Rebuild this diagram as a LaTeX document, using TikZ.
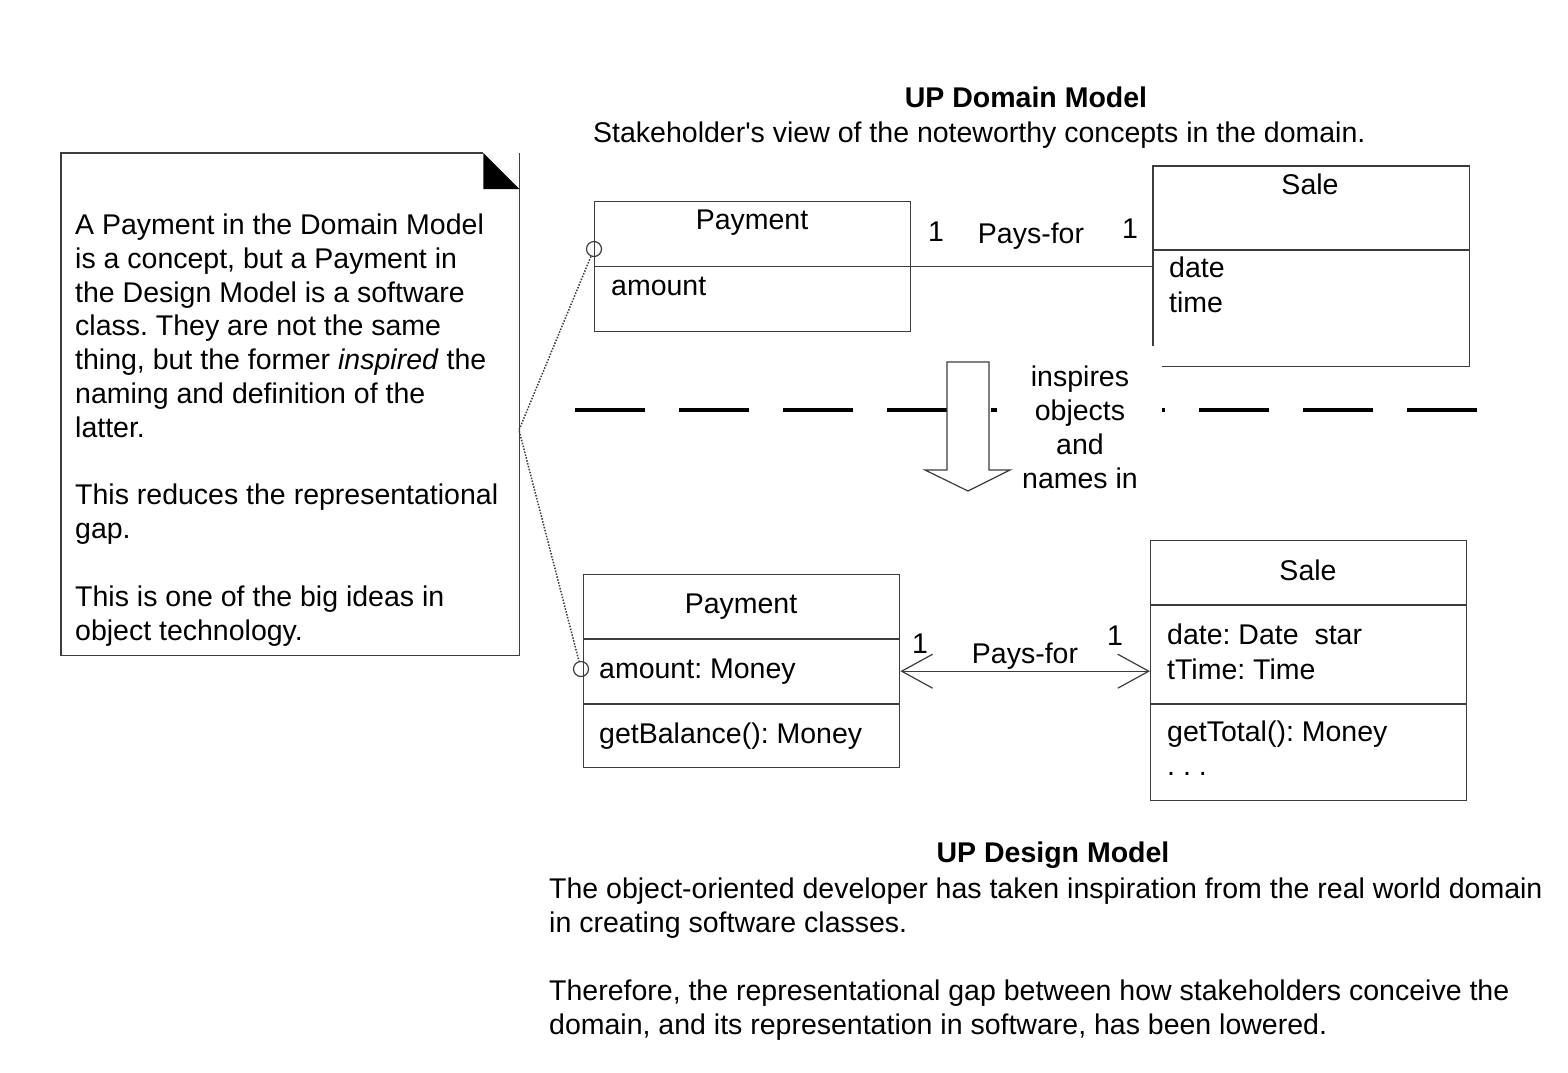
\documentclass[tikz,border=0pt]{standalone}
\usepackage{fontspec}
\setmainfont{Liberation Sans}[Ligatures=TeXOff]
\usetikzlibrary{arrows.meta,calc}
\definecolor{lc}{RGB}{60,60,60}
\newcommand{\fsz}{\fontsize{28.5}{33.8}\selectfont\frenchspacing}
\begin{document}
\begin{tikzpicture}[x=1pt,y=-1pt,
  txt/.style={inner sep=0pt, font=\fsz, align=left},
  ttl/.style={inner sep=0pt, font=\fsz\bfseries},
  frame/.style={inner sep=0pt, anchor=north west},
  box/.style={draw=lc, line width=1.4pt, inner sep=0pt, anchor=north west},
  ln/.style={draw=lc, line width=1.4pt},
  port/.style={circle, draw=lc, line width=1.2pt, minimum size=15pt, inner sep=0pt},
  barb/.style={{Straight Barb[length=31pt,width=34pt]}-{Straight Barb[length=31pt,width=34pt]}}
]
\useasboundingbox (0,0) rectangle (1568,1072);

% ---------- note ----------
\node[frame, minimum width=458pt, minimum height=502pt] (note) at (61,153) {};
\draw[ln] ($(note.north east)+(-36,0)$) -- (note.north west) -- (note.south west) -- (note.south east) -- (note.north east);
\fill[black] ($(note.north east)+(-36,0)$) -- ($(note.north east)+(-36,36)$) -- ($(note.north east)+(0,36)$) -- cycle;
% base anchor of a multi-line node = baseline of its last line
\node[txt, anchor=base west] (notetext) at (75,640) {A Payment in the Domain Model\\
is a concept, but a Payment in\\
the Design Model is a software\\
class. They are not the same\\
thing, but the former \textit{inspired} the\\
naming and definition of the\\
latter.\\[33.8pt]
This reduces the representational\\
gap.\\[33.8pt]
This is one of the big ideas in\\
object technology.};

% ---------- domain model ----------
\node[ttl, anchor=base] (dtitle) at (1026,107) {UP Domain Model};
\node[txt, anchor=base west] (dsub) at (593,142) {Stakeholder's view of the noteworthy concepts in the domain.};

\node[box, minimum width=316pt, minimum height=130pt] (dp) at (594,201) {};
\draw[ln] (dp.west) -- (dp.east);
\node[txt, anchor=base] (dpn) at (752,229) {Payment};
\node[txt, anchor=base west] (dpa) at (611,295) {amount};

\node[frame, minimum width=316pt, minimum height=200pt] (ds) at (1153,166) {};
\draw[ln] ($(ds.south west)+(0,-20)$) -- (ds.north west) -- (ds.north east) -- (ds.south east) -- ($(ds.south west)+(9,0)$);
\draw[ln] ($(ds.north west)+(0,84)$) -- ($(ds.north east)+(0,84)$);
\node[txt, anchor=base] (dsn) at (1310,194) {Sale};
\node[txt, anchor=base west] (dsa1) at (1169,277) {date};
\node[txt, anchor=base west] (dsa2) at (1169,312) {time};

\draw[ln] (dp.east) -- (dp.east -| ds.west);
\node[txt, anchor=base] (dm1) at (936,241) {1};
\node[txt, anchor=base] (dpf) at (1031,243) {Pays-for};
\node[txt, anchor=base] (dm2) at (1130,238) {1};

% ---------- separator and inspiration arrow ----------
\coordinate (sepL) at (575,410);
\coordinate (sepR) at (1477,410);
\draw[black, line width=4pt, dash pattern=on 70pt off 34pt] (sepL) -- (sepR);
\fill[white] (997,398) rectangle (1162,422);
\draw[draw=lc, line width=1.2pt, fill=white] (947,362) -- (989,362) -- (989,470) -- (1010,470) -- (968,491) -- (925,470) -- (947,470) -- cycle;
\node[txt, align=center, anchor=base] (insp) at (1080,488) {inspires\\objects\\and\\names in};

% ---------- design model ----------
\node[box, minimum width=316pt, minimum height=193pt] (gp) at (583,574) {};
\draw[ln] ($(gp.north west)+(0,65)$) -- ($(gp.north east)+(0,65)$);
\draw[ln] ($(gp.north west)+(0,130)$) -- ($(gp.north east)+(0,130)$);
\node[txt, anchor=base] (gpn) at (741,613) {Payment};
\node[txt, anchor=base west] (gpa) at (599,678) {amount: Money};
\node[txt, anchor=base west] (gpm) at (599,743) {getBalance(): Money};

\node[box, minimum width=316pt, minimum height=260pt] (gs) at (1150,540) {};
\draw[ln] ($(gs.north west)+(0,65)$) -- ($(gs.north east)+(0,65)$);
\draw[ln] ($(gs.north west)+(0,164)$) -- ($(gs.north east)+(0,164)$);
\node[txt, anchor=base] (gsn) at (1308,580) {Sale};
\node[txt, anchor=base west] (gsa1) at (1167,644) {date: Date\ \ star};
\node[txt, anchor=base west] (gsa2) at (1167,679) {tTime: Time};
\node[txt, anchor=base west] (gsm1) at (1167,741) {getTotal(): Money};
\node[txt, anchor=base west] (gsm2) at (1167,775) {. . .};

\draw[ln, line width=1.2pt, barb] (gp.east) -- (gp.east -| gs.west);
\node[txt, anchor=base] (gm1) at (920,653) {1};
\node[txt, anchor=base] (gpf) at (1025,663) {Pays-for};
\node[txt, anchor=base] (gm2) at (1115,645) {1};

\node[ttl, anchor=base] (gtitle) at (1053,862) {UP Design Model};
\node[txt, anchor=base west] (gsub) at (549,1034) {The object-oriented developer has taken inspiration from the real world domain\\
in creating software classes.\\[33.8pt]
Therefore, the representational gap between how stakeholders conceive the\\
domain, and its representation in software, has been lowered.};

% ---------- note links ----------
\node[port] (k1) at (594,249) {};
\node[port] (k2) at (581,669) {};
\coordinate (nk) at (519,430);
\draw[lc, line width=1.5pt, dash pattern=on 1.5pt off 1.5pt] (k1) -- (nk) -- (k2);
\end{tikzpicture}
\end{document}
